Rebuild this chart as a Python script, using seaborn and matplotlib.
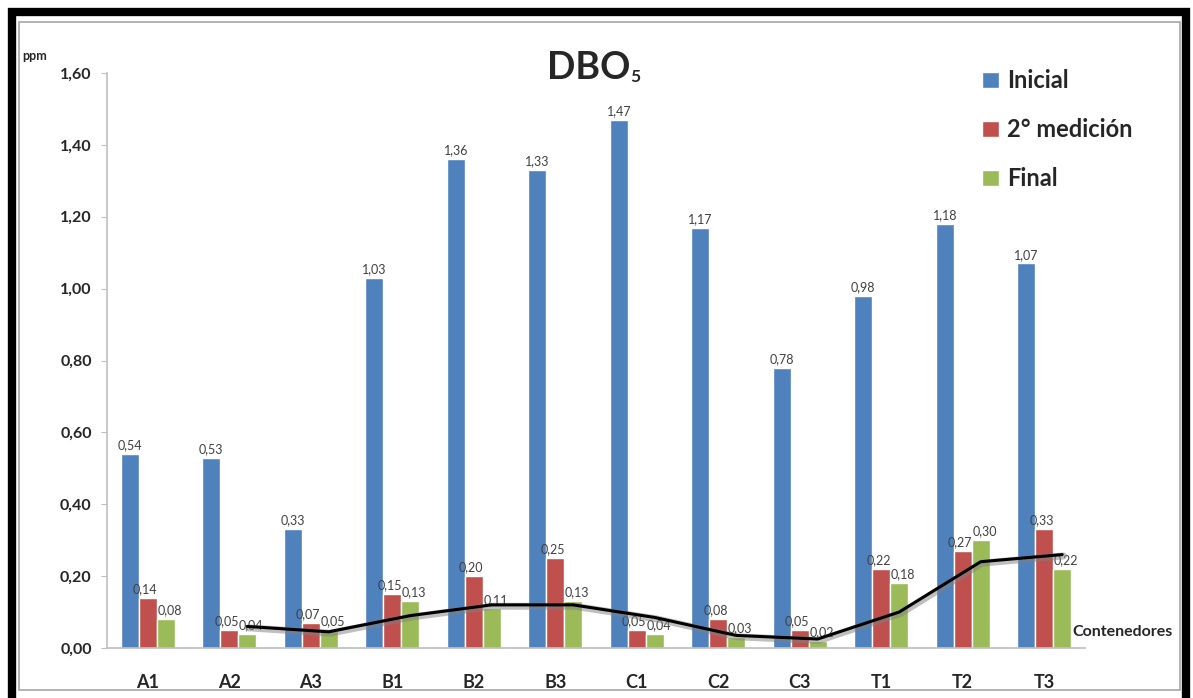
import numpy as np
import pandas as pd
import seaborn as sns
import matplotlib
matplotlib.use("Agg")
from matplotlib import pyplot as plt
from matplotlib import patheffects as pe
from matplotlib.patches import Rectangle, Patch

contenedores = ["A1", "A2", "A3", "B1", "B2", "B3", "C1", "C2", "C3", "T1", "T2", "T3"]
inicial = [0.54, 0.53, 0.33, 1.03, 1.36, 1.33, 1.47, 1.17, 0.78, 0.98, 1.18, 1.07]
segunda = [0.14, 0.05, 0.07, 0.15, 0.20, 0.25, 0.05, 0.08, 0.05, 0.22, 0.27, 0.33]
final = [0.08, 0.04, 0.05, 0.13, 0.11, 0.13, 0.04, 0.03, 0.02, 0.18, 0.30, 0.22]
series = ["Inicial", "2° medición", "Final"]
colores = ["#4F81BD", "#C0504D", "#9BBB59"]
y_ticks = [0.0, 0.2, 0.4, 0.6, 0.8, 1.0, 1.2, 1.4, 1.6]

df = pd.DataFrame({
    "Contenedor": contenedores * 3,
    "ppm": inicial + segunda + final,
    "Medicion": [s for s in series for _ in contenedores],
})

sns.set_style("white")
plt.rcParams["font.family"] = ["Lato", "DejaVu Sans"]

W, H = 1193, 698
fig = plt.figure(figsize=(W / 100, H / 100), dpi=100)
ax = fig.add_axes([107 / W, 1 - 648 / H, (1085 - 107) / W, (648 - 73) / H])

sns.barplot(data=df, x="Contenedor", y="ppm", hue="Medicion", hue_order=series,
            palette=colores, width=0.66, saturation=1, ax=ax, legend=False)


def coma(v):
    return ("%.2f" % v).replace(".", ",")


# etiquetas: rojo un poco a la izquierda, verde un poco a la derecha
for cont, dx in zip(ax.containers, [0, -2, 3]):
    for b in cont:
        ax.annotate(coma(b.get_height()), (b.get_x() + b.get_width() / 2, b.get_height()),
                    xytext=(dx, 2), textcoords="offset points", ha="center", va="bottom",
                    fontsize=9, color="#404040")

# media movil de 2 periodos sobre "Final"
mm = pd.Series(final).rolling(2).mean()
xs = [b.get_x() + b.get_width() / 2 for b in ax.containers[2]]
ax.plot(xs[1:], mm[1:], color="black", lw=2.2, zorder=5,
        path_effects=[pe.SimpleLineShadow(offset=(1, -1), shadow_color="gray", alpha=0.5, linewidth=5),
                      pe.Normal()])

ax.set_xlim(-0.5, 11.5)
ax.set_ylim(0, 1.6)
ax.set_yticks(y_ticks)
ax.set_yticklabels([coma(v) for v in y_ticks], fontsize=11.5, fontweight="bold")
ax.set_xticks(range(len(contenedores)))
ax.set_xticklabels(contenedores, fontsize=13, fontweight="bold")
ax.set_xticks(np.arange(-0.5, 12, 1), minor=True)
ax.tick_params(axis="x", which="major", length=0, pad=19)
ax.tick_params(axis="x", which="minor", length=6, color="#BFBFBF", direction="out")
ax.tick_params(axis="y", length=4, color="#BFBFBF", direction="out", pad=7, left=True)
ax.set_xlabel("")
ax.set_ylabel("")
for s in ["top", "right"]:
    ax.spines[s].set_visible(False)
for s in ["left", "bottom"]:
    ax.spines[s].set_color("#BFBFBF")
    ax.spines[s].set_linewidth(1.2)

fig.text(22 / W, 1 - 60 / H, "ppm", fontsize=9, fontweight="bold", va="baseline")
fig.text(1072 / W, 1 - 636 / H, "Contenedores", fontsize=11.5, fontweight="bold", va="baseline")
fig.text(547 / W, 1 - 79 / H, "DBO", fontsize=27, fontweight="bold", va="baseline")
fig.text(630 / W, 1 - 82 / H, "5", fontsize=12.5, fontweight="bold", va="baseline")

handles = [Patch(facecolor=c) for c in colores]
fig.legend(handles, series, loc="upper left", bbox_to_anchor=(961 / W, 1 - 48 / H),
           frameon=False, prop={"size": 17, "weight": "bold"}, labelspacing=1.1,
           handlelength=0.7, handleheight=0.7, handletextpad=0.35)

# marcos
fig.patches.append(Rectangle((19 / W, 1 - 690 / H), (1180 - 19) / W, (690 - 22) / H,
                             transform=fig.transFigure, fill=False, edgecolor="#A6A6A6", lw=1.2))
fig.patches.append(Rectangle((12 / W, -0.05), (1186 - 12) / W, 1 - 12 / H + 0.05,
                             transform=fig.transFigure, fill=False, edgecolor="black", lw=6))

fig.savefig("out.png", dpi=100)
